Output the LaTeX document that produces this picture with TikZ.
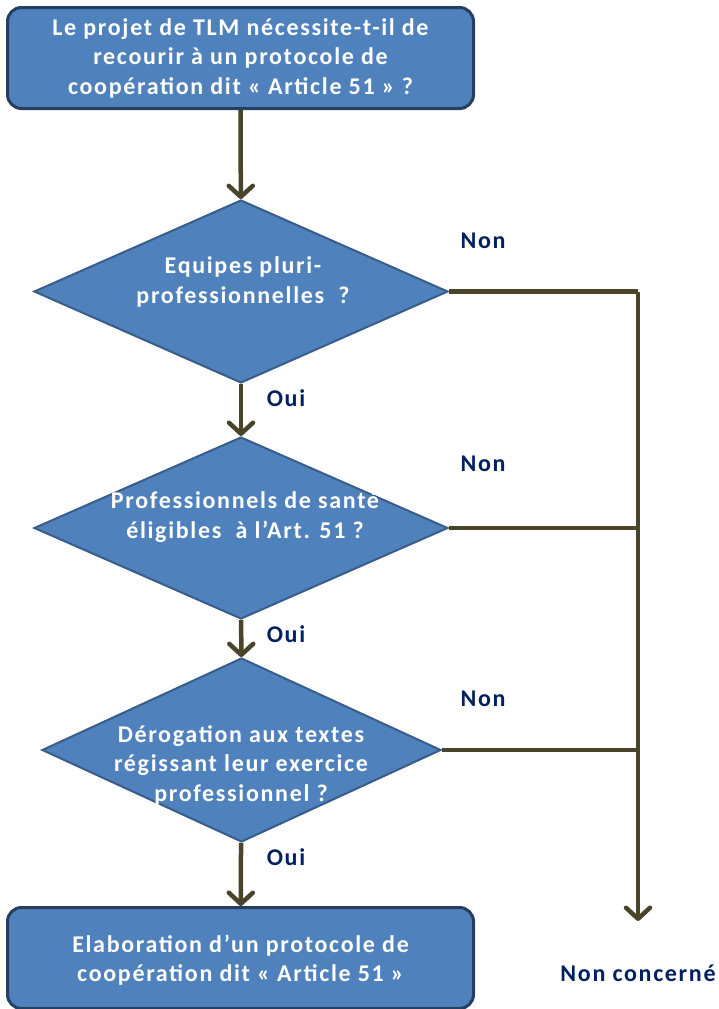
\documentclass[tikz,border=0pt]{standalone}
\usepackage{fontspec}
\setmainfont{Carlito}
\newfontfamily\flowfont[LetterSpace=7]{Carlito}
\usepackage{tikz}
\usetikzlibrary{arrows.meta,positioning,shapes.geometric}

\definecolor{boxblue}{HTML}{4F81BD}
\definecolor{boxedge}{HTML}{243F60}
\definecolor{diaedge}{HTML}{385D8A}
\definecolor{flowline}{HTML}{4A452A}
\definecolor{answernavy}{HTML}{002060}

\begin{document}
\begin{tikzpicture}[
    x=1pt, y=-1pt,
    % --- Box styles ---
    main box/.style={draw=boxedge, line width=3pt, fill=boxblue, rounded corners=14pt,
                     minimum width=466pt, inner sep=0pt},
    question/.style={draw=diaedge, line width=2pt, fill=boxblue, diamond, inner sep=0pt,
                     minimum width=414pt},
    box text/.style={text=white, font=\flowfont\bfseries\fontsize{24}{29.5}\selectfont, align=center},
    % --- Labels ---
    answer/.style={text=answernavy, font=\flowfont\bfseries\fontsize{24}{26}\selectfont},
    % --- Connectors ---
    flow arrow/.style={draw=flowline, line width=4.5pt,
                       -{Straight Barb[length=11pt,width=24pt,round]}},
    flow line/.style={draw=flowline, line width=4.5pt, line join=round},
]
\useasboundingbox (0,0) rectangle (719,1009);

% ============================================================
% Start and end boxes
% ============================================================
\node[main box, minimum height=101pt] (start) at (240.5,58) {};
\node[box text] (starttxt) at (start.center)
  {Le projet de TLM nécessite-t-il de\\recourir à un protocole de\\coopération dit «~Article~51~»~?};

\node[main box, minimum height=101pt] (finish) at (240.5,958) {};
\node[box text] (finishtxt) at (240.5,960)
  {Elaboration d’un protocole de\\coopération dit «~Article~51~»};

% ============================================================
% The three questions
% ============================================================
\node[question, minimum height=183pt] (d1) at (241,291.5) {};
\node[box text] (d1txt) at (243,282) {Equipes pluri-\\professionnelles~~?};

\node[question, minimum height=182pt] (d2) at (241,528) {};
\node[box text] (d2txt) at (245,517) {Professionnels de santé\\éligibles~~à l’Art. 51 ?};

\node[question, minimum width=399pt, minimum height=184pt] (d3) at (241.5,750) {};
\node[box text] (d3txt) at (241,765) {Dérogation aux textes\\régissant leur exercice\\professionnel ?};

% ============================================================
% Answers
% ============================================================
\node[answer] (non1) at (483,241) {Non};
\node[answer] (non2) at (483,464) {Non};
\node[answer] (non3) at (483,699) {Non};
\node[answer] (oui1) at (286,398) {Oui};
\node[answer] (oui2) at (286,634) {Oui};
\node[answer] (oui3) at (286,857) {Oui};
\node[answer] (nonconc) at (638,973) {Non concerné};

% --- Side rail to "Non concerné" ---
\coordinate (railend) at (638,921);
\coordinate (rail1) at (d1.east -| railend);
\coordinate (rail2) at (d2.east -| railend);
\coordinate (rail3) at (d3.east -| railend);

% ============================================================
% Connectors
% ============================================================
\draw[flow arrow] (start) -- (d1);
\draw[flow arrow] (d1) -- (d2);
\draw[flow arrow] (d2) -- (d3);
\draw[flow arrow] (d3) -- (finish);

\draw[flow line] (d1.east) -- (rail1);
\draw[flow line] (d2.east) -- (rail2);
\draw[flow line] (d3.east) -- (rail3);
\draw[flow arrow] (rail1) -- (railend);

\end{tikzpicture}
\end{document}
